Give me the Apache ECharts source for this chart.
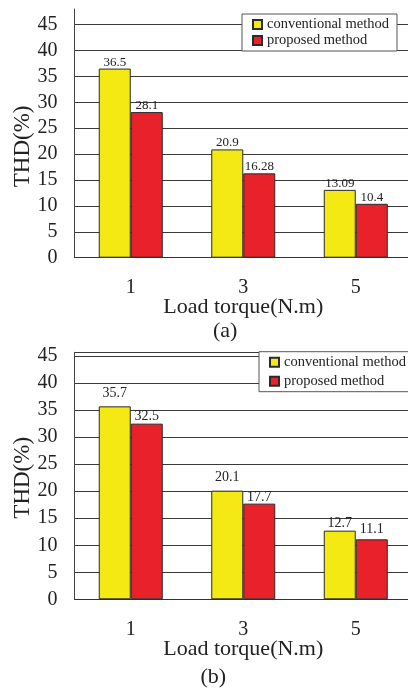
<!DOCTYPE html>
<html>
<head>
<meta charset="utf-8">
<script src="https://cdn.jsdelivr.net/npm/echarts@6/dist/echarts.min.js"></script>
<style>
html,body{margin:0;padding:0;background:#fff;}
#c{width:408px;height:689px;}
</style>
</head>
<body>
<div id="c"></div>
<script>
// ---- data ----
const categories = ['1', '3', '5'];
const seriesNames = ['conventional method', 'proposed method'];
const convA = [36.5, 20.9, 13.09];
const propA = [28.1, 16.28, 10.4];
const convB = [35.7, 20.1, 12.7];
const propB = [32.5, 17.7, 11.1];
const yTickInterval = 5;
const panelLabels = ['(a)', '(b)'];
const xAxisTitle = 'Load torque(N.m)';
const yAxisTitle = 'THD(%)';

// ---- styles (kept apart from data) ----
const labelDistConvB = [6, 6, 0];
const labelDistPropB = [0, -1, 3];
const FONT = 'Liberation Serif, Times New Roman, serif';
const TXT = '#222';
const YELLOW = '#f5e914';
const RED = '#e8212a';

function withDist(vals, dists) {
  return vals.map((v, i) => ({ value: v, label: { distance: dists[i] } }));
}

const chart = echarts.init(document.getElementById('c'), null, { renderer: 'canvas' });

function xAx(gi) {
  return {
    type: 'category', gridIndex: gi, data: categories,
    axisLine: { show: true, lineStyle: { color: '#333', width: 1 } },
    axisTick: { show: false },
    axisLabel: { fontFamily: FONT, fontSize: 20, color: TXT, margin: 20 },
    name: xAxisTitle, nameLocation: 'middle', nameGap: 39, nameMoveOverlap: false,
    nameTextStyle: { fontFamily: FONT, fontSize: 22, color: TXT }
  };
}
function yAx(gi, max, showTop, namePad) {
  return {
    type: 'value', gridIndex: gi, min: 0, max: max, interval: yTickInterval,
    axisLine: { show: true, lineStyle: { color: '#444', width: 1 } },
    axisTick: { show: false },
    axisLabel: { fontFamily: FONT, fontSize: 20, color: TXT, margin: 17, showMaxLabel: false },
    splitLine: { show: true, showMinLine: false, showMaxLine: showTop, lineStyle: { color: '#3a3a3a', width: 1 } },
    name: yAxisTitle, nameLocation: 'middle', nameGap: 40, nameRotate: 90, nameMoveOverlap: false,
    nameTextStyle: { fontFamily: FONT, fontSize: 23, color: TXT, padding: namePad }
  };
}
function barSeries(name, xi, data, color, fontSize) {
  return {
    type: 'bar', name: name, xAxisIndex: xi, yAxisIndex: xi, data: data,
    barWidth: 32, barGap: '0%',
    itemStyle: { color: color, borderColor: '#2a2a2a', borderWidth: 1 },
    label: { show: true, position: 'top', distance: 0, fontFamily: FONT, fontSize: fontSize, color: TXT },
    animation: false
  };
}

const option = {
  animation: false,
  grid: [
    { left: 74.5, top: 9, width: 337.5, height: 248.7, outerBoundsMode: 'none', containLabel: false },
    { left: 74.5, top: 352.3, width: 337.5, height: 247, outerBoundsMode: 'none', containLabel: false }
  ],
  xAxis: [xAx(0), xAx(1)],
  yAxis: [yAx(0, 48, false, [0, 26, 0, 0]), yAx(1, 45.7, true, [0, 4, 0, 0])],
  legend: [
    {
      data: seriesNames, orient: 'vertical', left: 242, top: 14,
      padding: [3, 8, 3, 10], itemGap: 1, itemWidth: 9, itemHeight: 9,
      backgroundColor: '#fff', borderColor: '#555', borderWidth: 1,
      textStyle: { fontFamily: FONT, fontSize: 14.5, color: TXT },
      icon: 'rect'
    },
    {
      data: seriesNames, orient: 'vertical', left: 259, top: 351.7,
      padding: [3, 8, 3, 10], itemGap: 4, itemWidth: 9, itemHeight: 9,
      backgroundColor: '#fff', borderColor: '#555', borderWidth: 1,
      textStyle: { fontFamily: FONT, fontSize: 14.5, color: TXT },
      icon: 'rect'
    }
  ],
  series: [
    barSeries(seriesNames[0], 0, convA, YELLOW, 13),
    barSeries(seriesNames[1], 0, propA, RED, 13),
    barSeries(seriesNames[0], 1, withDist(convB, labelDistConvB), YELLOW, 14),
    barSeries(seriesNames[1], 1, withDist(propB, labelDistPropB), RED, 14)
  ],
  graphic: [
    { type: 'text', left: 225 - 12, top: 320, style: { text: panelLabels[0], font: '22px ' + FONT, fill: TXT } },
    { type: 'text', left: 212.5 - 12, top: 666, style: { text: panelLabels[1], font: '22px ' + FONT, fill: TXT } }
  ]
};
chart.setOption(option);
</script>
</body>
</html>
